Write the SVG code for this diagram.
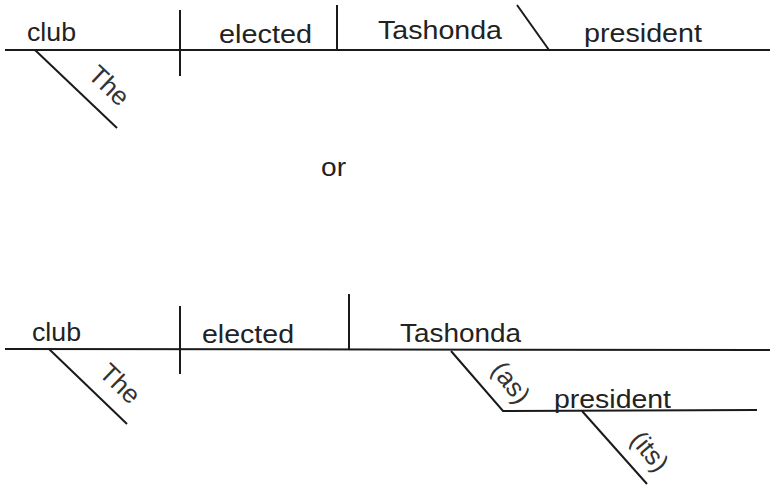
<svg xmlns="http://www.w3.org/2000/svg" width="770" height="488" viewBox="0 0 770 488">
<style>
  .ln { stroke: #1a1a1a; stroke-width: 2; fill: none; stroke-linecap: butt; }
  .w { font-family: "Liberation Sans", Arial, sans-serif; font-size: 26px; fill: #222; }
  .s { font-family: "Liberation Sans", Arial, sans-serif; font-size: 26px; fill: #333; text-anchor: middle; }
</style>
<rect width="770" height="488" fill="#fff"/>
<g id="connectors">
  <line class="ln" x1="5" y1="50" x2="770" y2="50"/>
  <line class="ln" x1="180" y1="10" x2="180" y2="76"/>
  <line class="ln" x1="337" y1="5" x2="337" y2="50"/>
  <line class="ln" x1="517" y1="5" x2="549" y2="50"/>
  <line class="ln" x1="35" y1="50" x2="117" y2="128"/>
  <line class="ln" x1="5" y1="349" x2="770" y2="350"/>
  <line class="ln" x1="180" y1="306" x2="180" y2="374"/>
  <line class="ln" x1="349" y1="294" x2="349" y2="350"/>
  <line class="ln" x1="49" y1="349" x2="127" y2="424"/>
  <polyline class="ln" points="451,351 503,411 757,410"/>
  <line class="ln" x1="582" y1="411" x2="647" y2="484"/>
</g>
<g id="top-club"><text class="w" x="27" y="41" textLength="49" lengthAdjust="spacingAndGlyphs">club</text></g>
<g id="top-the"><text class="s" transform="translate(103,92) rotate(43.6)" fill="#222">The</text></g>
<g id="top-elected"><text class="w" x="219" y="43" textLength="93" lengthAdjust="spacingAndGlyphs">elected</text></g>
<g id="top-tashonda"><text class="w" x="378" y="39" textLength="124" lengthAdjust="spacingAndGlyphs">Tashonda</text></g>
<g id="top-president"><text class="w" x="584" y="42" textLength="118" lengthAdjust="spacingAndGlyphs">president</text></g>
<g id="or"><text class="w" x="321" y="176" textLength="25" lengthAdjust="spacingAndGlyphs">or</text></g>
<g id="bot-club"><text class="w" x="32" y="341" textLength="49" lengthAdjust="spacingAndGlyphs">club</text></g>
<g id="bot-the"><text class="s" transform="translate(114,390) rotate(43.9)">The</text></g>
<g id="bot-elected"><text class="w" x="202" y="343" textLength="92" lengthAdjust="spacingAndGlyphs">elected</text></g>
<g id="bot-tashonda"><text class="w" x="400" y="342" textLength="121" lengthAdjust="spacingAndGlyphs">Tashonda</text></g>
<g id="bot-as"><text class="s" transform="translate(504,388) rotate(52)">(as)</text></g>
<g id="bot-president"><text class="w" x="554" y="408" textLength="117" lengthAdjust="spacingAndGlyphs">president</text></g>
<g id="bot-its"><text class="s" transform="translate(643,457) rotate(50)">(its)</text></g>
</svg>
